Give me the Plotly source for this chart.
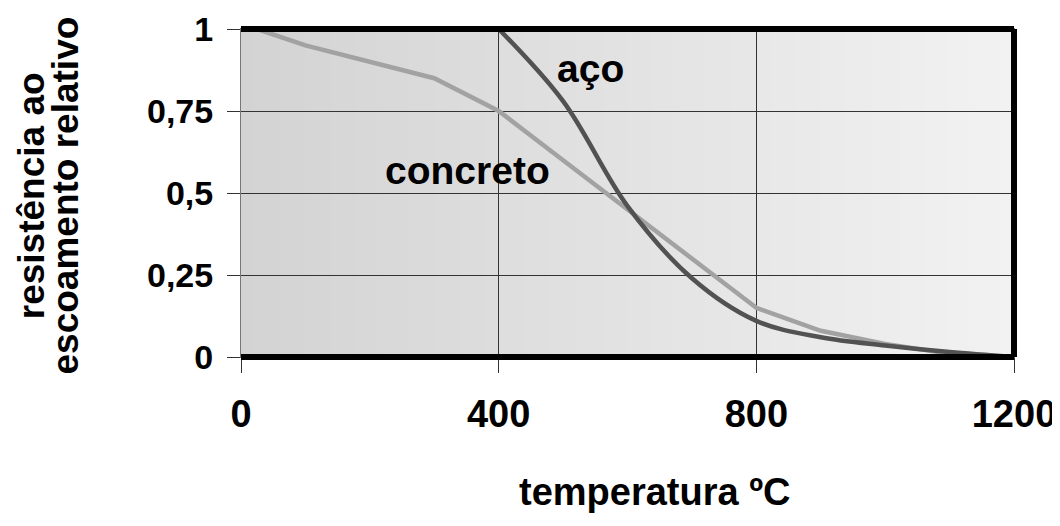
import plotly.graph_objects as go

# Data
temp_concreto = [25, 100, 300, 400, 500, 600, 700, 800, 900, 1000, 1100, 1200]
res_concreto = [1.0, 0.95, 0.85, 0.75, 0.60, 0.45, 0.30, 0.15, 0.08, 0.04, 0.01, 0.0]

temp_aco = [400, 500, 600, 700, 800, 900, 1000, 1100, 1200]
res_aco = [1.0, 0.78, 0.46, 0.24, 0.11, 0.06, 0.035, 0.015, 0.0]

x_ticks = [0, 400, 800, 1200]
x_ticklabels = ["0", "400", "800", "1200"]
y_ticks = [0, 0.25, 0.5, 0.75, 1]
y_ticklabels = ["0", "0,25", "0,5", "0,75", "1"]

FONT = "Liberation Sans, Arial, sans-serif"

fig = go.Figure()

# horizontal gradient background built from thin strips (style only)
n_strips = 60
c0, c1 = 0xd3, 0xf2
for i in range(n_strips):
    t = i / (n_strips - 1)
    v = int(round(c0 + (c1 - c0) * t))
    col = "rgb(%d,%d,%d)" % (v, v, v)
    fig.add_shape(type="rect", xref="paper", yref="paper",
                  x0=i / n_strips, x1=(i + 1) / n_strips + 0.002, y0=0, y1=1,
                  fillcolor=col, line=dict(width=0), layer="below")

fig.add_trace(go.Scatter(
    x=temp_concreto, y=res_concreto, mode="lines", name="concreto",
    line=dict(color="#a2a2a2", width=4.5), hoverinfo="x+y",
))
fig.add_trace(go.Scatter(
    x=temp_aco, y=res_aco, mode="lines", name="aço",
    line=dict(color="#525252", width=4.5, shape="spline", smoothing=1.0), hoverinfo="x+y",
))

# thick frame (top, right, bottom)
for (x0, y0, x1, y1) in [(0, 1, 1, 1), (1, 0, 1, 1), (0, 0, 1, 0)]:
    fig.add_shape(type="line", xref="paper", yref="paper",
                  x0=x0, y0=y0, x1=x1, y1=y1,
                  line=dict(color="black", width=6), layer="above")

fig.add_annotation(x=543, y=0.88, xref="x", yref="y", text="<b>aço</b>",
                   showarrow=False, xanchor="center", yanchor="middle",
                   font=dict(family=FONT, size=39, color="black"))
fig.add_annotation(x=351, y=0.57, xref="x", yref="y", text="<b>concreto</b>",
                   showarrow=False, xanchor="center", yanchor="middle",
                   font=dict(family=FONT, size=39, color="black"))

# axis titles
fig.add_annotation(x=0.5356, y=-0.4116, xref="paper", yref="paper",
                   text="<b>temperatura ºC</b>", showarrow=False,
                   xanchor="center", yanchor="middle",
                   font=dict(family=FONT, size=38, color="black"))
fig.add_annotation(x=-0.2700, y=0.491, xref="paper", yref="paper",
                   text="<b>resistência ao</b>", showarrow=False,
                   xanchor="center", yanchor="middle", textangle=-90,
                   font=dict(family=FONT, size=37, color="black"))
fig.add_annotation(x=-0.2270, y=0.491, xref="paper", yref="paper",
                   text="<b>escoamento relativo</b>", showarrow=False,
                   xanchor="center", yanchor="middle", textangle=-90,
                   font=dict(family=FONT, size=37, color="black"))

fig.update_layout(
    width=1052, height=518,
    margin=dict(l=233, r=46, t=21, b=169),
    paper_bgcolor="white", plot_bgcolor="#e0e0e0",
    showlegend=False,
    font=dict(family=FONT, color="black"),
)
fig.update_xaxes(
    range=[0, 1200], tickvals=x_ticks, ticktext=["<b>%s</b>" % t for t in x_ticklabels],
    tickfont=dict(size=38, family=FONT), ticks="outside", ticklen=15, tickcolor="#333",
    ticklabelstandoff=8,
    showgrid=True, gridcolor="#333", gridwidth=1, zeroline=False,
    showline=True, linecolor="#777", linewidth=1, mirror=True, automargin=False,
)
fig.update_yaxes(
    range=[0, 1], tickvals=y_ticks, ticktext=["<b>%s</b>" % t for t in y_ticklabels],
    tickfont=dict(size=34, family=FONT), ticks="outside", ticklen=13, tickcolor="#333",
    ticklabelstandoff=7,
    showgrid=True, gridcolor="#333", gridwidth=1, zeroline=False,
    showline=True, linecolor="#777", linewidth=1, mirror=True, automargin=False,
)

fig.write_html("out.html")
